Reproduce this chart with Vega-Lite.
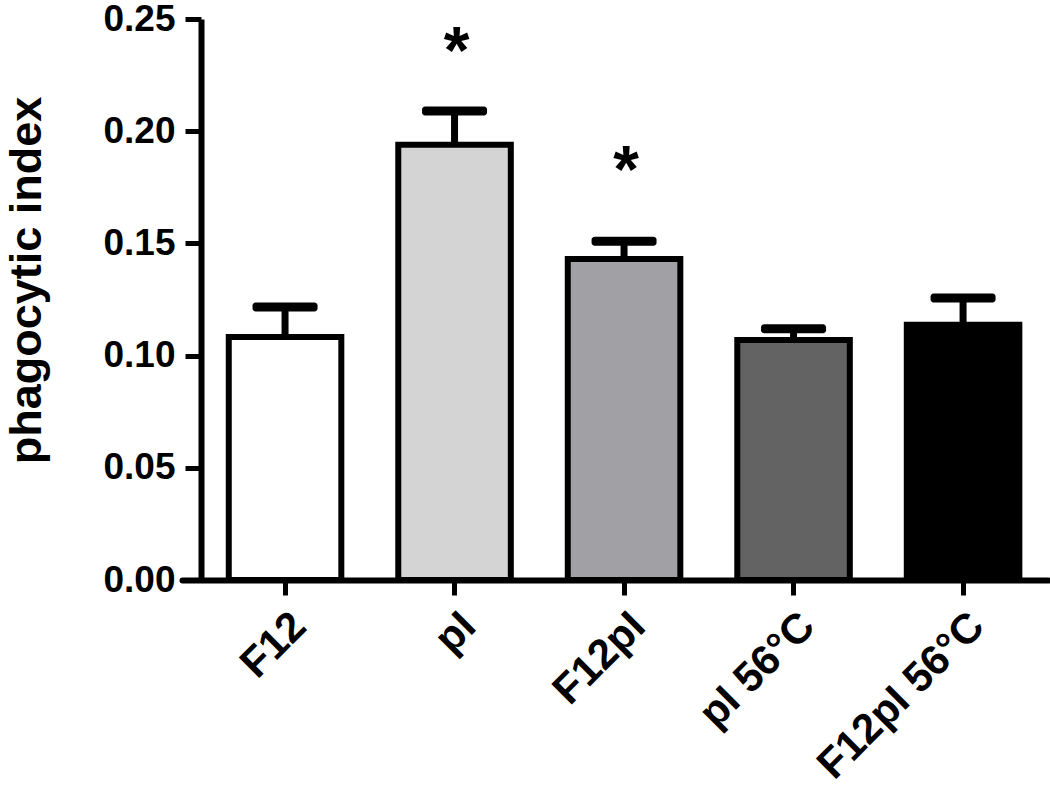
{
  "$schema": "https://vega.github.io/schema/vega-lite/v6.json",
  "autosize": "none",
  "width": 866,
  "height": 561,
  "padding": {"left": 182, "top": 19, "right": 2, "bottom": 211},
  "background": "white",
  "config": {
    "view": {"stroke": null},
    "font": "Liberation Sans"
  },
  "data": {
    "values": [
      {"group": "F12", "value": 0.1083, "upper": 0.1217},
      {"group": "pI", "value": 0.194, "upper": 0.209},
      {"group": "F12pI", "value": 0.143, "upper": 0.151},
      {"group": "pI 56°C", "value": 0.107, "upper": 0.112},
      {"group": "F12pI 56°C", "value": 0.1137, "upper": 0.1257}
    ]
  },
  "encoding": {
    "x": {
      "field": "group",
      "type": "nominal",
      "sort": ["F12", "pI", "F12pI", "pI 56°C", "F12pI 56°C"],
      "scale": {"paddingInner": 0.336, "paddingOuter": 0.2225, "align": 0.62},
      "axis": {
        "title": null,
        "domainColor": "black",
        "domainWidth": 6,
        "domainCap": "round",
        "tickColor": "black",
        "tickWidth": 5,
        "tickSize": 15,
        "labelAngle": -45,
        "labelAlign": "right",
        "labelBaseline": "top",
        "labelPadding": 10,
        "labelFontSize": 42,
        "labelFontWeight": "bold",
        "labelColor": "black",
        "labelLimit": 0,
        "labelOverlap": false
      }
    }
  },
  "layer": [
    {
      "mark": {"type": "bar", "stroke": "black", "strokeWidth": 6, "strokeJoin": "miter"},
      "encoding": {
        "y": {
          "field": "value",
          "type": "quantitative",
          "scale": {"domain": [0, 0.25], "nice": false, "zero": true},
          "axis": {
            "title": "phagocytic index",
            "titleFontSize": 45,
            "titleFontWeight": "bold",
            "titleColor": "black",
            "titleX": -175,
            "titleY": 261,
            "titleBaseline": "middle",
            "titleAngle": -90,
            "values": [0, 0.05, 0.1, 0.15, 0.2, 0.25],
            "format": ".2f",
            "offset": -19,
            "grid": false,
            "domainColor": "black",
            "domainWidth": 6,
            "tickColor": "black",
            "tickWidth": 5,
            "tickSize": 16,
            "labelPadding": 10,
            "labelFontSize": 37,
            "labelFontWeight": "bold",
            "labelColor": "black"
          }
        },
        "color": {
          "field": "group",
          "type": "nominal",
          "scale": {
            "domain": ["F12", "pI", "F12pI", "pI 56°C", "F12pI 56°C"],
            "range": ["#ffffff", "#d4d4d4", "#a1a0a5", "#636363", "#000000"]
          },
          "legend": null
        }
      }
    },
    {
      "mark": {"type": "rule", "color": "black", "strokeWidth": 7},
      "encoding": {
        "y": {"field": "value", "type": "quantitative"},
        "y2": {"field": "upper"}
      }
    },
    {
      "mark": {"type": "tick", "color": "black", "opacity": 1, "size": 65, "thickness": 9, "orient": "horizontal", "cornerRadius": 3},
      "encoding": {
        "y": {"field": "upper", "type": "quantitative"}
      }
    },
    {
      "data": {
        "values": [
          {"group": "pI", "star": 0.241, "label": "*"},
          {"group": "F12pI", "star": 0.188, "label": "*"}
        ]
      },
      "mark": {"type": "text", "fontSize": 66, "fontWeight": "bold", "baseline": "middle", "dx": 2, "dy": 14, "color": "black"},
      "encoding": {
        "y": {"field": "star", "type": "quantitative"},
        "text": {"field": "label"}
      }
    }
  ]
}
